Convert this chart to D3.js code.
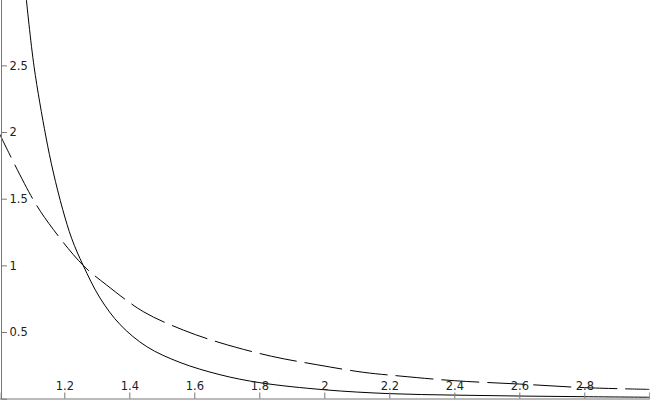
<!DOCTYPE html>
<html>
<head>
<meta charset="utf-8">
<script src="https://cdn.jsdelivr.net/npm/d3@7"></script>
<style>
  body { margin: 0; background: #fff; }
  .axis text { font-family: "DejaVu Sans", sans-serif; font-size: 11.5px; fill: #222; }
  .axis path, .axis line { stroke: #777; }
</style>
</head>
<body>
<div id="chart"></div>
<script>
const width = 650,
    height = 400

// values
var xTicks = [1.2, 1.4, 1.6, 1.8, 2, 2.2, 2.4, 2.6, 2.8]
var yTicks = [0.5, 1, 1.5, 2, 2.5]

var solidX = [1.083, 1.107, 1.143, 1.166, 1.195, 1.223, 1.258, 1.31, 1.372, 1.454, 1.556, 1.679, 1.802, 2.0, 2.2, 2.4, 2.6, 2.8, 3.0]
var solidY = [3.0, 2.49, 1.97, 1.70, 1.42, 1.20, 1.0, 0.755, 0.555, 0.39, 0.272, 0.18, 0.12, 0.067, 0.038, 0.027, 0.02, 0.015, 0.011]

var dashX = [1.0, 1.105, 1.166, 1.258, 1.33, 1.443, 1.566, 1.679, 1.838, 1.977, 2.12, 2.233, 2.4, 2.6, 2.8, 3.0]
var dashY = [1.99, 1.49, 1.27, 1.0, 0.853, 0.653, 0.515, 0.42, 0.318, 0.255, 0.198, 0.17, 0.135, 0.11, 0.083, 0.07]

var x = d3.scaleLinear().domain([1, 3]).range([-0.7, 649.3])
var y = d3.scaleLinear().domain([0, 3]).range([398.7, -1.3])

var svg = d3.select("#chart")
    .append("svg")
    .attr("width", width)
    .attr("height", height)

svg.append("defs")
    .append("clipPath")
    .attr("id", "clip")
    .append("rect")
    .attr("width", width)
    .attr("height", height)

var line = d3.line()
    .x(d => x(d[0]))
    .y(d => y(d[1]))
    .curve(d3.curveCatmullRom.alpha(0.5))

var plot = svg.append("g").attr("clip-path", "url(#clip)")

plot.append("path")
    .datum(d3.zip(dashX, dashY))
    .attr("fill", "none")
    .attr("stroke", "#000")
    .attr("stroke-width", 1)
    .attr("stroke-dasharray", "38,8")
    .attr("stroke-dashoffset", 11)
    .attr("d", line)

plot.append("path")
    .datum(d3.zip(solidX, solidY))
    .attr("fill", "none")
    .attr("stroke", "#000")
    .attr("stroke-width", 1)
    .attr("d", line)

// x axis sits on the bottom edge, ticks and labels pointing up
svg.append("g")
    .attr("class", "axis")
    .attr("transform", "translate(0,398.5)")
    .call(d3.axisTop(x).tickValues(xTicks).tickFormat(d3.format("")).tickSize(6).tickPadding(2.5))

// y axis on the left edge, ticks and labels pointing right
svg.append("g")
    .attr("class", "axis")
    .attr("transform", "translate(1,0)")
    .call(d3.axisRight(y).tickValues(yTicks).tickFormat(d3.format("")).tickSize(6).tickPadding(2.5))
</script>
</body>
</html>
